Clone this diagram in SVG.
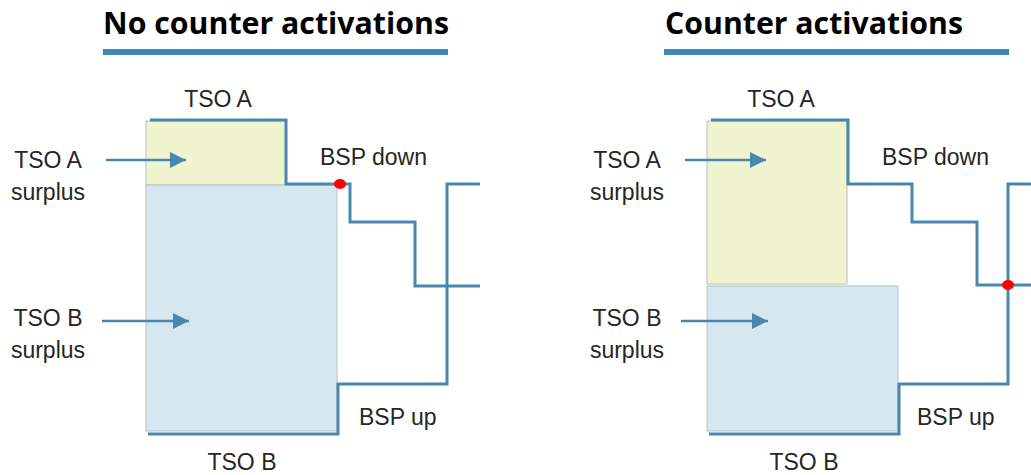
<svg xmlns="http://www.w3.org/2000/svg" width="1031" height="475" viewBox="0 0 1031 475">
<style>
.t{font-family:"Liberation Sans",Arial,sans-serif;font-size:23px;fill:#262626}
.m{text-anchor:middle}
.h{font-family:"Open Sans","Liberation Sans",sans-serif;font-weight:bold;font-size:30px;fill:#000}
.ln{fill:none;stroke:#4a87b0;stroke-width:3;stroke-linejoin:miter}
.ar{fill:none;stroke:#4a87b0;stroke-width:2.5}
.ya{fill:#eff4cf;stroke:#b8bfc6;stroke-width:1}
.bb{fill:#d7e7f0;stroke:#b8bfc6;stroke-width:1}
.bar{fill:#4087b8}
.dot{fill:#ff0000}
</style>
<defs>
<marker id="ah" markerUnits="userSpaceOnUse" markerWidth="18" markerHeight="18" refX="16" refY="8" orient="auto">
<path d="M0,0 L16,8 L0,16 Z" fill="#4a87b0"/>
</marker>
</defs>
<g id="left-title">
<text class="h" x="103" y="34" textLength="346" lengthAdjust="spacingAndGlyphs">No counter activations</text>
<rect class="bar" x="103" y="49" width="345" height="6"/>
</g>
<g id="right-title">
<text class="h" x="665" y="34" textLength="298" lengthAdjust="spacingAndGlyphs">Counter activations</text>
<rect class="bar" x="664" y="49" width="345" height="6"/>
</g>
<g id="left-tsoA-box"><rect class="ya" x="146" y="121" width="140" height="64"/></g>
<g id="left-tsoB-box"><rect class="bb" x="146" y="185" width="191" height="246"/></g>
<g id="right-tsoA-box"><rect class="ya" x="707" y="121" width="140" height="163"/></g>
<g id="right-tsoB-box"><rect class="bb" x="707" y="286" width="191" height="145"/></g>
<g id="connectors">
<path class="ln" d="M150,120 H286 V184 H350 V222 H415 V286 H480"/>
<path class="ln" d="M480,184 H447 V384 H338 V434 H148"/>
<path class="ln" d="M711,120 H848 V184 H912 V222 H977 V285 H1031"/>
<path class="ln" d="M1031,184 H1008 V384 H899 V434 H709"/>
<line class="ar" x1="106" y1="160" x2="186" y2="160" marker-end="url(#ah)"/>
<line class="ar" x1="102" y1="321" x2="189" y2="321" marker-end="url(#ah)"/>
<line class="ar" x1="685" y1="160" x2="766" y2="160" marker-end="url(#ah)"/>
<line class="ar" x1="681" y1="321" x2="768" y2="321" marker-end="url(#ah)"/>
<ellipse class="dot" cx="340" cy="184" rx="6" ry="5"/>
<ellipse class="dot" cx="1008" cy="285" rx="6" ry="5"/>
</g>
<g id="left-labels">
<text class="t m" x="218" y="107">TSO A</text>
<text class="t m" x="242" y="470">TSO B</text>
<text class="t" x="320" y="165">BSP down</text>
<text class="t" x="359" y="425">BSP up</text>
<text class="t m" x="48" y="168">TSO A</text>
<text class="t m" x="48" y="200">surplus</text>
<text class="t m" x="48" y="326">TSO B</text>
<text class="t m" x="48" y="358">surplus</text>
</g>
<g id="right-labels">
<text class="t m" x="781" y="107">TSO A</text>
<text class="t m" x="804" y="470">TSO B</text>
<text class="t" x="882" y="165">BSP down</text>
<text class="t" x="917" y="425">BSP up</text>
<text class="t m" x="627" y="168">TSO A</text>
<text class="t m" x="627" y="200">surplus</text>
<text class="t m" x="627" y="326">TSO B</text>
<text class="t m" x="627" y="358">surplus</text>
</g>
</svg>
